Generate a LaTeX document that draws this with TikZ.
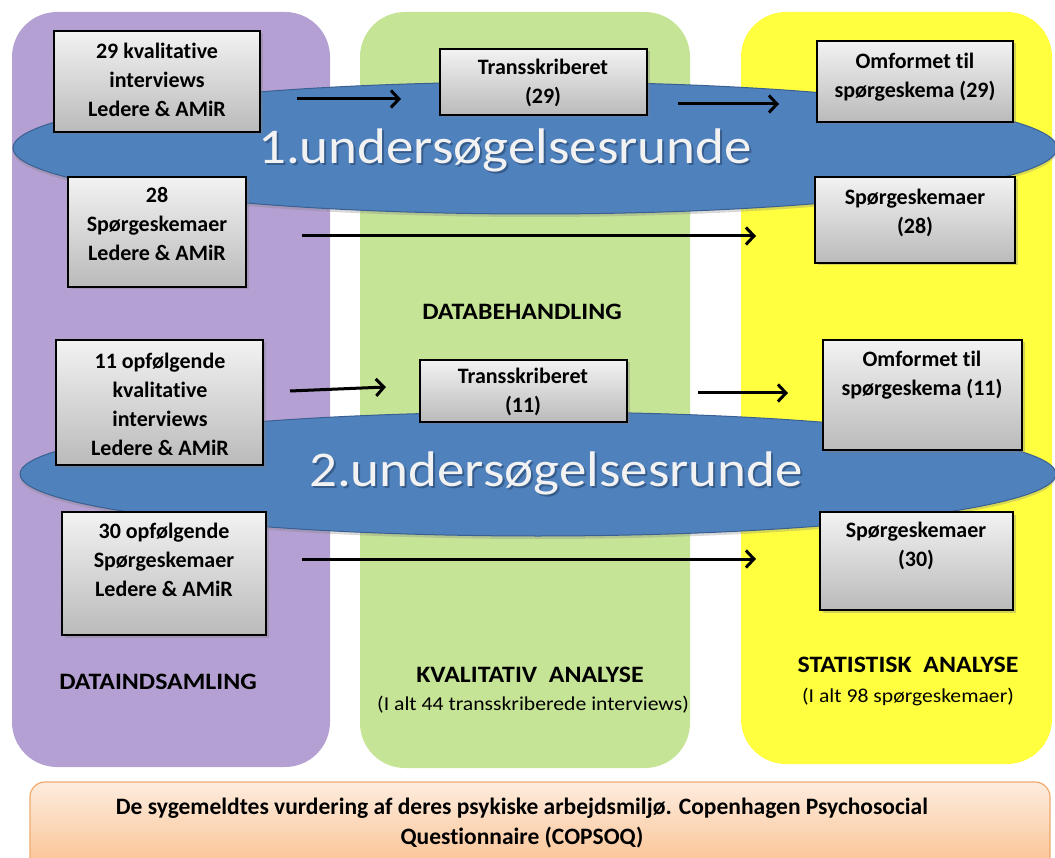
\documentclass[tikz,border=0pt]{standalone}
\usepackage{fontspec}
\setmainfont{Carlito}[Ligatures=NoCommon]
\newfontfamily\widefont{Carlito}[Ligatures=NoCommon,FakeStretch=1.1]
\usetikzlibrary{arrows.meta,shadows,shapes.geometric}
\definecolor{colpurple}{RGB}{180,160,210}
\definecolor{colgreen}{RGB}{198,228,150}
\definecolor{colyellow}{RGB}{255,255,64}
\definecolor{ellblue}{RGB}{79,129,189}
\definecolor{elledge}{RGB}{58,96,145}
\definecolor{peachtop}{RGB}{253,236,222}
\definecolor{peachbot}{RGB}{250,192,143}
\definecolor{peachedge}{RGB}{238,170,110}
\definecolor{txtshadow}{RGB}{40,70,110}
\tikzset{
  column/.style={rounded corners=45pt, draw=none},
  graybox/.style={rectangle, draw=black, line width=1.5pt, top color=black!5, bottom color=black!27,
    drop shadow={opacity=0.35, shadow xshift=2.5pt, shadow yshift=-2.5pt}},
  btxt/.style={font=\bfseries\fontsize{22}{29}\selectfont, align=center, inner sep=0pt},
  roundell/.style={ellipse, fill=ellblue, draw=elledge, line width=1pt,
    drop shadow={opacity=0.3, shadow xshift=0pt, shadow yshift=-3pt}},
  elltxt/.style={font=\widefont\fontsize{50}{50}\selectfont, text=white!95!black, inner sep=0pt},
  elltxtsh/.style={font=\widefont\fontsize{50}{50}\selectfont, text=txtshadow, opacity=0.6, inner sep=0pt},
  arr/.style={line width=3pt, -{Straight Barb[length=8pt,width=17pt]}},
  headlbl/.style={font=\widefont\bfseries\fontsize{23.5}{27}\selectfont, inner sep=0pt},
  sublbl/.style={font=\widefont\fontsize{19.7}{23}\selectfont, inner sep=0pt},
}
\begin{document}
\begin{tikzpicture}[x=1pt,y=-1pt]
\useasboundingbox (0,0) rectangle (1055,858);
% columns
\fill[colpurple, column] (12,12) rectangle (330,767);
\fill[colgreen, column] (360,12) rectangle (690,768);
\fill[colyellow, column] (741,12) rectangle (1052,764);
% bottom bar
\draw[rounded corners=15pt, line width=1.2pt, draw=peachedge, top color=peachtop, bottom color=peachbot]
  (30,782) rectangle (1050,872);
\node[font=\bfseries\fontsize{23.5}{30}\selectfont, align=center, inner sep=0pt] (bottomtxt) at (522,823)
  {De sygemeldtes vurdering af deres psykiske arbejdsmiljø. Copenhagen Psychosocial\\Questionnaire (COPSOQ)};
% ellipses
\node[roundell, minimum width=1044, minimum height=132] (E1) at (535,148) {};
\node[roundell, minimum width=1036, minimum height=124] (E2) at (538,474) {};
\node[elltxtsh] at (507,152) {1.undersøgelsesrunde};
\node[elltxt] (E1t) at (505,150) {1.undersøgelsesrunde};
\node[elltxtsh] at (558,475) {2.undersøgelsesrunde};
\node[elltxt] (E2t) at (556,473) {2.undersøgelsesrunde};
% labels
\node[headlbl] (databeh) at (522,312) {DATABEHANDLING};
\node[headlbl] (dataind) at (158,682) {DATAINDSAMLING};
\node[headlbl] (kval) at (530,675) {KVALITATIV\ \ ANALYSE};
\node[sublbl] (kvalsub) at (533,705) {(I alt 44 transskriberede interviews)};
\node[headlbl] (stat) at (908,665) {STATISTISK\ \ ANALYSE};
\node[sublbl] (statsub) at (908,697) {(I alt 98 spørgeskemaer)};
% arrows
\coordinate (a1s) at (297,99);  \coordinate (a1e) at (401,99);
\coordinate (a2s) at (678,104); \coordinate (a2e) at (779,104);
\coordinate (a3s) at (302,236); \coordinate (a3e) at (756,236);
\coordinate (a4s) at (290,391); \coordinate (a4e) at (386,387);
\coordinate (a5s) at (698,393); \coordinate (a5e) at (788,393);
\coordinate (a6s) at (302,559); \coordinate (a6e) at (756,559);
\draw[arr] (a1s) -- (a1e);
\draw[arr] (a2s) -- (a2e);
\draw[arr] (a3s) -- (a3e);
\draw[arr] (a4s) -- (a4e);
\draw[arr] (a5s) -- (a5e);
\draw[arr] (a6s) -- (a6e);
% boxes
\node[graybox, minimum width=206, minimum height=101] (B1) at (157,81.5) {};
\node[btxt] (B1t) at (157,80) {29 kvalitative\\interviews\\Ledere \& AMiR};
\node[graybox, minimum width=178, minimum height=110] (B2) at (157,232) {};
\node[btxt] (B2t) at (157,224) {28\\Spørgeskemaer\\Ledere \& AMiR};
\node[graybox, minimum width=207, minimum height=66] (T1) at (543.5,82) {};
\node[btxt] (T1t) at (543,83) {Transskriberet\\(29)};
\node[graybox, minimum width=196, minimum height=81] (O1) at (915,81.5) {};
\node[btxt] (O1t) at (915,77) {Omformet til\\spørgeskema (29)};
\node[graybox, minimum width=200, minimum height=86] (S1) at (915,220) {};
\node[btxt] (S1t) at (915,212.5) {Spørgeskemaer\\(28)};
\node[graybox, minimum width=207, minimum height=125] (B3) at (159.5,402.5) {};
\node[btxt] (B3t) at (160,404) {11 opfølgende\\kvalitative\\interviews\\Ledere \& AMiR};
\node[graybox, minimum width=204, minimum height=123] (B4) at (164,573.5) {};
\node[btxt] (B4t) at (164,560) {30 opfølgende\\Spørgeskemaer\\Ledere \& AMiR};
\node[graybox, minimum width=207, minimum height=62] (T2) at (523.5,391) {};
\node[btxt] (T2t) at (523,391.5) {Transskriberet\\(11)};
\node[graybox, minimum width=199, minimum height=110] (O2) at (922.5,395) {};
\node[btxt] (O2t) at (922,375) {Omformet til\\spørgeskema (11)};
\node[graybox, minimum width=193, minimum height=98] (S2) at (916.5,561) {};
\node[btxt] (S2t) at (916,546) {Spørgeskemaer\\(30)};
\end{tikzpicture}
\end{document}
